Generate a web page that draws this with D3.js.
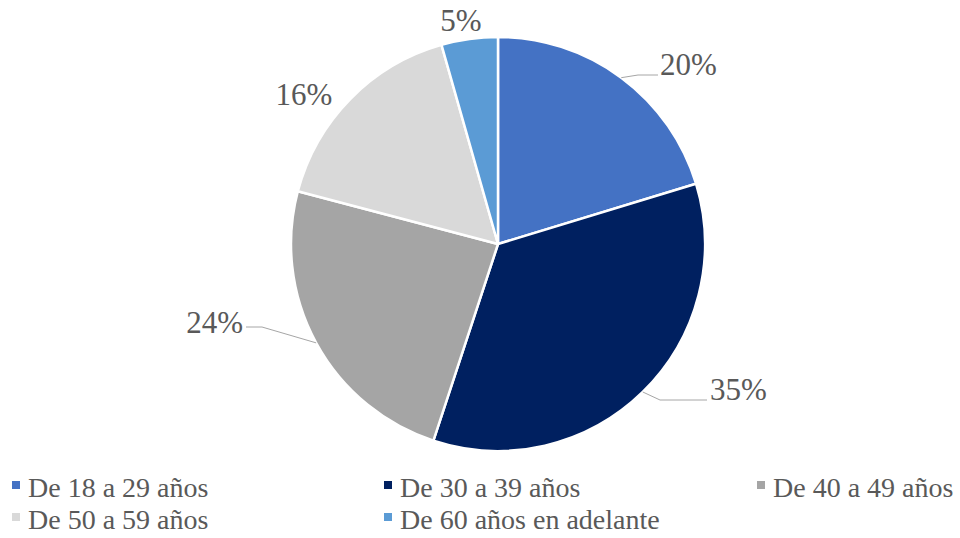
<!DOCTYPE html>
<html>
<head>
<meta charset="utf-8">
</head>
<body style="margin:0">
<svg width="960" height="538"></svg>
<script src="https://d3js.org/d3.v7.min.js"></script>
<script>

// age groups and their share
var categories = ['De 18 a 29 años', 'De 30 a 39 años', 'De 40 a 49 años', 'De 50 a 59 años', 'De 60 años en adelante']
var values = [20.3, 34.75, 24.05, 16.5, 4.4]
var labels = ['20%', '35%', '24%', '16%', '5%']
var colors = ['#4472C4', '#002060', '#A5A5A5', '#D9D9D9', '#5B9BD5']

// label placement relative to the pie centre (like excel's best fit)
// [x, y, anchor, elbow x, elbow y, line end x] - null elbow = no leader line
var labelLayout = [
  [162, -169, 'start', 140, -169, 160],
  [212, 156, 'start', 162, 156, 209],
  [-255, 89, 'end', -236, 83, -252],
  [-194, -139, 'middle', null],
  [-37, -213, 'middle', null]
]

var cx = 498
var cy = 244
var radius = 207

var svg = d3.select('svg')

var pie = d3.pie().sort(null).value(function (d) { return d })
var arcs = pie(values)

var arc = d3.arc().innerRadius(0).outerRadius(radius)

var g = svg.append('g').attr('transform', 'translate(' + cx + ',' + cy + ')')

g.selectAll('path.slice')
  .data(arcs)
  .enter().append('path')
  .attr('class', 'slice')
  .attr('d', arc)
  .attr('fill', function (d, i) { return colors[i] })
  .attr('stroke', '#fff')
  .attr('stroke-width', 2.5)
  .attr('stroke-linejoin', 'round')

// leader lines start on the rim at the slice's middle angle
function rimPoint(d) {
  var a = (d.startAngle + d.endAngle) / 2
  return [Math.sin(a) * radius, -Math.cos(a) * radius]
}

g.selectAll('polyline.leader')
  .data(arcs.filter(function (d, i) { return labelLayout[i][3] !== null }))
  .enter().append('polyline')
  .attr('class', 'leader')
  .attr('fill', 'none')
  .attr('stroke', '#A6A6A6')
  .attr('stroke-width', 1)
  .attr('points', function (d) {
    var L = labelLayout[d.index]
    var p = rimPoint(d)
    return [p, [L[3], L[4]], [L[5], L[4]]].map(function (q) { return q.join(',') }).join(' ')
  })

svg.selectAll('text.pct')
  .data(arcs)
  .enter().append('text')
  .attr('class', 'pct')
  .attr('x', function (d, i) { return cx + labelLayout[i][0] })
  .attr('y', function (d, i) { return cy + labelLayout[i][1] })
  .attr('text-anchor', function (d, i) { return labelLayout[i][2] })
  .style('font-family', 'Liberation Serif')
  .style('font-size', '31px')
  .attr('fill', '#595959')
  .text(function (d, i) { return labels[i] })

// legend, three columns
var colX = d3.scaleOrdinal().domain([0, 1, 2]).range([12, 384, 757])
var rowY = d3.scaleOrdinal().domain([0, 1]).range([497, 529])

svg.selectAll('rect.key')
  .data(categories)
  .enter().append('rect')
  .attr('class', 'key')
  .attr('x', function (d, i) { return colX(i % 3) })
  .attr('y', function (d, i) { return rowY(Math.floor(i / 3)) - 16 })
  .attr('width', 8)
  .attr('height', 8)
  .attr('fill', function (d, i) { return colors[i] })

svg.selectAll('text.key')
  .data(categories)
  .enter().append('text')
  .attr('class', 'key')
  .attr('x', function (d, i) { return colX(i % 3) + 16 })
  .attr('y', function (d, i) { return rowY(Math.floor(i / 3)) })
  .style('font-family', 'Liberation Serif')
  .style('font-size', '28px')
  .attr('fill', '#595959')
  .text(function (d) { return d })

</script>
</body>
</html>
